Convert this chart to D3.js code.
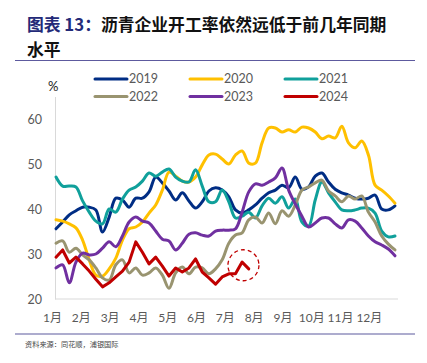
<!DOCTYPE html>
<html>
<head>
<meta charset="utf-8">
<script src="https://cdn.jsdelivr.net/npm/d3@7"></script>
<style>
  body { margin: 0; background: #fff; }
  text { font-family: Lato, "Noto Sans CJK SC", sans-serif; }
</style>
</head>
<body>
<div id="chart"></div>
<script>
// weekly operating rate, %
var years = ["2019", "2020", "2021", "2022", "2023", "2024"];
var colors = ["#002d84", "#ffc000", "#10a09b", "#999470", "#7030a0", "#c00000"];
var months = ["1月", "2月", "3月", "4月", "5月", "6月", "7月", "8月", "9月", "10月", "11月", "12月"];
var yTicks = [20, 30, 40, 50, 60];

var v2019 = [35.6, 37.1, 38.7, 39.6, 40.4, 40.4, 39.8, 34.9, 38.2, 42.4, 42.0, 40.4, 42.4,
  42.4, 43.8, 47.1, 45.8, 44.0, 42.0, 43.6, 41.8, 40.2, 41.6, 44.0, 44.7, 44.2,
  42.7, 39.8, 39.1, 39.8, 40.9, 42.4, 43.6, 44.2, 45.3, 44.7, 47.1, 44.4, 44.9,
  47.3, 48.0, 46.0, 44.4, 43.6, 43.1, 42.4, 42.2, 42.4, 43.1, 40.0, 39.8, 40.7];
var v2020 = [37.6, 37.3, 36.7, 35.8, 33.1, 28.7, 25.3, 25.1, 26.7, 29.1, 33.1, 35.6, 36.0,
  37.1, 39.1, 40.9, 44.2, 48.2, 47.3, 46.2, 46.0, 47.1, 49.8, 52.0, 52.2, 51.1,
  50.0, 52.0, 52.9, 50.2, 50.2, 54.7, 58.0, 58.0, 57.1, 57.6, 57.1, 58.2, 58.0,
  57.1, 55.6, 56.2, 55.8, 58.4, 54.7, 53.6, 55.1, 52.0, 45.3, 44.2, 42.9, 41.3];
var v2021 = [47.1, 45.1, 45.1, 44.9, 41.8, 39.3, 37.3, 36.7, 40.0, 39.3, 42.2, 44.2, 44.9,
  46.2, 48.0, 47.3, 48.2, 48.9, 47.1, 46.2, 46.0, 48.7, 45.1, 41.6, 41.6, 44.2,
  41.6, 38.0, 38.4, 39.3, 38.0, 40.7, 42.4, 41.3, 42.7, 40.2, 42.2, 37.1, 36.2,
  42.0, 46.0, 43.6, 41.6, 39.8, 39.6, 39.8, 40.2, 40.2, 39.1, 35.1, 33.8, 34.0];
var v2022 = [32.4, 32.9, 30.4, 31.3, 29.8, 28.7, 26.9, 24.7, 24.2, 27.6, 28.7, 25.8, 26.9,
  25.3, 25.8, 26.9, 25.3, 22.4, 25.8, 27.1, 25.6, 27.1, 26.9, 25.6, 26.7, 28.7,
  32.4, 34.2, 34.7, 37.6, 38.2, 36.9, 39.1, 36.7, 39.6, 38.4, 40.9, 44.2, 44.9,
  45.8, 46.4, 44.0, 42.9, 41.6, 42.9, 42.2, 42.9, 39.3, 37.1, 34.0, 32.2, 30.9];
var v2023 = [26.9, 27.6, 23.6, 28.2, 30.2, 29.8, 30.0, 31.3, 32.7, 31.6, 34.0, 37.1, 38.2,
  37.3, 36.9, 35.1, 33.3, 32.9, 30.9, 32.4, 34.4, 34.7, 34.2, 34.0, 35.1, 35.3,
  35.3, 35.6, 39.3, 43.8, 45.6, 45.3, 46.0, 46.9, 49.1, 44.2, 41.1, 38.4, 36.0,
  36.9, 38.0, 38.0, 36.7, 35.8, 37.6, 37.3, 35.8, 34.0, 32.7, 32.0, 31.1, 29.6];
var v2024 = [29.3, 30.9, 28.0, 29.3, 27.8, 26.2, 24.4, 22.7, 23.6, 24.9, 26.2, 28.2, 32.7,
  30.4, 27.8, 29.3, 27.3, 25.1, 26.9, 26.0, 26.9, 28.9, 26.0, 24.7, 23.3, 24.9,
  25.6, 25.6, 28.2, 26.7];

var series = [v2019, v2020, v2021, v2022, v2023, v2024];

var width = 427, height = 363;

var svg = d3.select("#chart")
  .append("svg")
    .attr("width", width)
    .attr("height", height);

// title
var title = svg.append("text")
    .attr("x", 27)
    .attr("y", 31)
    .style("font-family", "'Noto Sans CJK SC', sans-serif")
    .style("font-size", "16.8px")
    .style("font-weight", "bold");
title.append("tspan").attr("fill", "#232a78").text("图表 13：");
title.append("tspan").attr("fill", "#111").text("沥青企业开工率依然远低于前几年同期");
svg.append("text")
    .attr("x", 27)
    .attr("y", 55.5)
    .attr("fill", "#111")
    .style("font-family", "'Noto Sans CJK SC', sans-serif")
    .style("font-size", "16.8px")
    .style("font-weight", "bold")
    .text("水平");

svg.append("line")
    .attr("x1", 15).attr("x2", 415)
    .attr("y1", 60.5).attr("y2", 60.5)
    .attr("stroke", "#5d5a9e")
    .attr("stroke-width", 1.2);

svg.append("line")
    .attr("x1", 15).attr("x2", 415)
    .attr("y1", 334).attr("y2", 334)
    .attr("stroke", "#5d5a9e")
    .attr("stroke-width", 1.2);

svg.append("text")
    .attr("x", 25)
    .attr("y", 347)
    .attr("fill", "#444")
    .style("font-family", "'Noto Sans CJK SC', sans-serif")
    .style("font-size", "7.2px")
    .text("资料来源：同花顺，浦银国际");

// scales
var x = d3.scaleLinear().domain([0, 51]).range([56, 395]);
var y = d3.scaleLinear().domain([20, 65]).range([299, 96.5]);

var yAxis = svg.append("g")
    .attr("transform", "translate(55,0)")
    .call(d3.axisLeft(y).tickValues(yTicks).tickSize(0).tickSizeOuter(0).tickPadding(13));
yAxis.select(".domain").attr("stroke", "#d9d9d9");
yAxis.selectAll("text").attr("fill", "#595959").style("font-size", "12.5px");

var monthPos = months.map(function(m, i) { return i * 52 / 12 - 0.6; });
var xAxis = svg.append("g")
    .attr("transform", "translate(0,299)")
    .call(d3.axisBottom(x).tickValues(monthPos)
      .tickFormat(function(d, i) { return months[i]; })
      .tickSize(0).tickSizeOuter(0).tickPadding(14));
xAxis.select(".domain").attr("stroke", "#d9d9d9").attr("d", "M55,0H398");
xAxis.selectAll("text").attr("fill", "#595959").style("font-size", "12px");

svg.append("text")
    .attr("x", 48)
    .attr("y", 91)
    .attr("fill", "#222")
    .style("font-size", "13px")
    .text("%");

// lines
var smooth = d3.line()
    .x(function(d, i) { return x(i); })
    .y(function(d) { return y(d); })
    .curve(d3.curveCatmullRom);
var sharp = d3.line()
    .x(function(d, i) { return x(i); })
    .y(function(d) { return y(d); });

svg.append("g")
  .selectAll("path")
  .data(series)
  .enter().append("path")
    .attr("d", function(d, i) { return i === 5 ? sharp(d) : smooth(d); })
    .attr("fill", "none")
    .attr("stroke", function(d, i) { return colors[i]; })
    .attr("stroke-width", 3)
    .attr("stroke-linejoin", "round")
    .attr("stroke-linecap", "round");

// highlight circle around the latest 2024 weeks
var last = v2024.length - 1;
svg.append("circle")
    .attr("cx", x(last - 0.8))
    .attr("cy", y(27.5))
    .attr("r", 15.5)
    .attr("fill", "none")
    .attr("stroke", "#c00000")
    .attr("stroke-width", 1.3)
    .attr("stroke-dasharray", "4,3");

// legend
var legend = svg.append("g")
  .selectAll("g")
  .data(years)
  .enter().append("g")
    .attr("transform", function(d, i) {
      return "translate(" + (95 + (i % 3) * 95) + "," + (79 + Math.floor(i / 3) * 17.5) + ")";
    });
legend.append("line")
    .attr("x1", 0).attr("x2", 32)
    .attr("stroke", function(d, i) { return colors[i]; })
    .attr("stroke-width", 3)
    .attr("stroke-linecap", "round");
legend.append("text")
    .attr("x", 34)
    .attr("dy", "0.35em")
    .attr("fill", "#595959")
    .style("font-size", "12.5px")
    .text(function(d) { return d; });
</script>
</body>
</html>
